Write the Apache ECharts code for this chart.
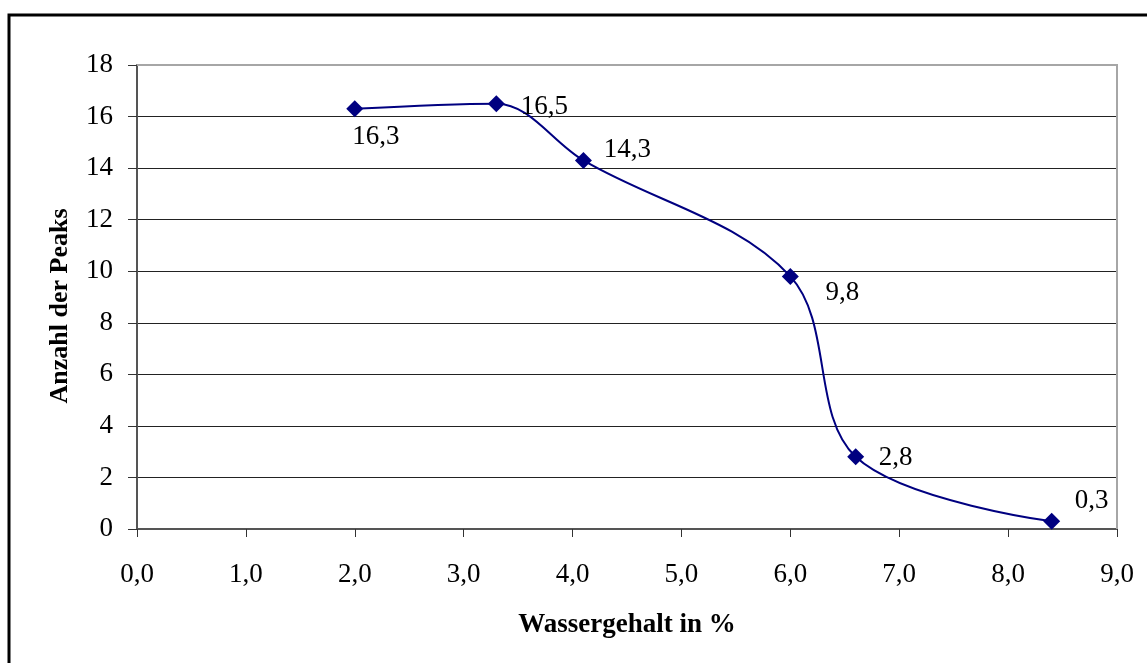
<!DOCTYPE html>
<html>
<head>
<meta charset="utf-8">
<script src="https://cdn.jsdelivr.net/npm/echarts@6/dist/echarts.min.js"></script>
<style>html,body{margin:0;padding:0;background:#fff;}#c{width:1147px;height:663px;}</style>
</head>
<body>
<div id="c"></div>
<script>
const waterContent = [2.0, 3.3, 4.1, 6.0, 6.6, 8.4];
const peakCount = [16.3, 16.5, 14.3, 9.8, 2.8, 0.3];
const xTicks = [0, 1, 2, 3, 4, 5, 6, 7, 8, 9];
const yTicks = [0, 2, 4, 6, 8, 10, 12, 14, 16, 18];

const labelOffsets = [[21, 28], [48, 3], [44, -10], [52, 17], [40, 1], [40, -20]];

const fmt = v => v.toFixed(1).replace('.', ',');

const chart = echarts.init(document.getElementById('c'), null, {renderer: 'canvas'});
const font = '"Liberation Serif", "Times New Roman", serif';

const data = waterContent.map((x, i) => ({
  value: [x, peakCount[i]],
  label: {show: true, position: 'inside', offset: labelOffsets[i], formatter: fmt(peakCount[i])}
}));

chart.setOption({
  animation: false,
  backgroundColor: '#fff',
  textStyle: {fontFamily: font},
  graphic: [
    {type: 'rect', shape: {x: 9, y: 15, width: 1160, height: 680}, style: {fill: null, stroke: '#000', lineWidth: 3}, z: 100},
    {type: 'polyline', shape: {points: [[137, 65], [1117, 65], [1117, 529]]}, style: {stroke: '#a6a6a6', lineWidth: 2, fill: null}, z: 50}
  ],
  grid: {left: 137, right: 30, top: 65, bottom: 134, containLabel: false},
  xAxis: {
    type: 'value', min: 0, max: 9, interval: 1,
    name: 'Wassergehalt in %', nameLocation: 'middle', nameGap: 83,
    nameTextStyle: {fontFamily: font, fontSize: 27, fontWeight: 'bold', color: '#000'},
    axisLine: {show: true, onZero: false, lineStyle: {color: '#555', width: 2}},
    axisTick: {show: true, inside: false, length: 8, lineStyle: {color: '#333', width: 1}},
    axisLabel: {formatter: v => fmt(v), fontFamily: font, fontSize: 27, color: '#000', margin: 32},
    splitLine: {show: false}
  },
  yAxis: {
    type: 'value', min: 0, max: 18, interval: 2,
    name: 'Anzahl der Peaks', nameLocation: 'middle', nameGap: 64, nameRotate: 90,
    nameTextStyle: {fontFamily: font, fontSize: 26, fontWeight: 'bold', color: '#000', padding: [0, 18, 0, 0]},
    axisLine: {show: true, lineStyle: {color: '#555', width: 2}},
    axisTick: {show: true, inside: false, length: 9, lineStyle: {color: '#333', width: 1}},
    axisLabel: {fontFamily: font, fontSize: 27, color: '#000', margin: 24},
    splitLine: {show: true, lineStyle: {color: '#222', width: 1}}
  },
  series: [{
    type: 'line',
    data: data,
    smooth: 0.35,
    symbol: 'diamond',
    symbolSize: 17,
    itemStyle: {color: '#000080'},
    lineStyle: {color: '#000080', width: 2},
    label: {fontFamily: font, fontSize: 27, color: '#000'},
    z: 10
  }]
});
</script>
</body>
</html>
